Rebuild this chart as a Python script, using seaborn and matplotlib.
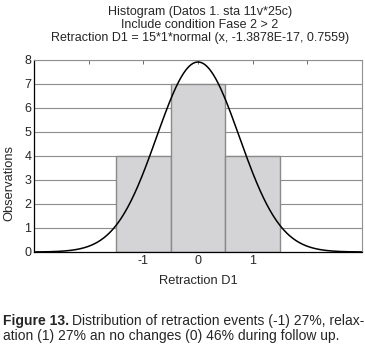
import numpy as np
import pandas as pd
import matplotlib
matplotlib.use("Agg")
import matplotlib.pyplot as plt
import seaborn as sns

# Data
categories = [-1, 0, 1]
counts = [4, 7, 4]
bin_edges = [-1.5, -0.5, 0.5, 1.5]
fit_n = 15
fit_width = 1
fit_mean = -1.3878e-17
fit_sd = 0.7559
title_lines = ["Histogram (Datos 1. sta 11v*25c)",
               "Include condition Fase 2 > 2",
               "Retraction D1 = 15*1*normal (x, -1.3878E-17, 0.7559)"]

sns.set_style("white")
plt.rcParams['font.family'] = ['Liberation Sans', 'DejaVu Sans']

W, H = 365, 347
fig = plt.figure(figsize=(W/100, H/100), dpi=100)
ax = fig.add_axes([34/W, 95/H, (362-34)/W, (252-60)/H])

for y in range(1, 9):
    ax.axhline(y, color="#8c8c8c", lw=0.8, zorder=0)

df = pd.DataFrame({"x": categories, "w": counts})
sns.histplot(data=df, x="x", weights="w", bins=bin_edges, ax=ax,
             color="#d4d4d6", edgecolor="#8a8a8a", linewidth=1.0, alpha=1, zorder=2)

xs = np.linspace(-3, 3, 400)
ys = fit_n * fit_width * np.exp(-0.5 * ((xs - fit_mean) / fit_sd) ** 2) / (fit_sd * np.sqrt(2 * np.pi))
sns.lineplot(x=xs, y=ys, ax=ax, color="black", lw=1.1, zorder=3)

ax.set_xlim(-3, 3)
ax.set_ylim(0, 8)
ax.set_xticks([-2, -1, 0, 1, 2])
ax.set_xticklabels(["", "-1", "0", "1", ""])
ax.set_yticks(range(0, 9))
ax.tick_params(axis="both", labelsize=9, length=3, width=0.6, color="#555555", pad=2,
               top=True, direction="in")
ax.tick_params(axis="x", direction="in")
ax.tick_params(axis="y", direction="out", length=0)
ax.set_xlabel("Retraction D1", fontsize=9.3, labelpad=6)
ax.set_ylabel("Observations", fontsize=9.3)
ax.yaxis.set_label_coords(9/W, 164/H, transform=fig.transFigure)
ax.yaxis.label.set_va("center")
for s in ["left", "bottom"]:
    ax.spines[s].set_color("black")
    ax.spines[s].set_linewidth(0.9)
for s in ["top", "right"]:
    ax.spines[s].set_color("#909090")
    ax.spines[s].set_linewidth(0.8)

for i, t in enumerate(title_lines):
    fig.text(200/W, 1 - (15 + 13*i)/H, t, ha="center", va="baseline", fontsize=9)

# caption
fig.canvas.draw()
r = fig.canvas.get_renderer()
t1 = fig.text(3/W, 1 - 325/H, "Figure 13.", fontweight="bold", fontsize=10, va="baseline")
bb = t1.get_window_extent(renderer=r)
fig.text((bb.x1 + 3)/W, 1 - 325/H, "Distribution of retraction events (-1) 27%, relax-",
         fontsize=10, va="baseline")
fig.text(3/W, 1 - 340/H, "ation (1) 27% an no changes (0) 46% during follow up.",
         fontsize=10, va="baseline")

fig.savefig("out.png", dpi=100)
